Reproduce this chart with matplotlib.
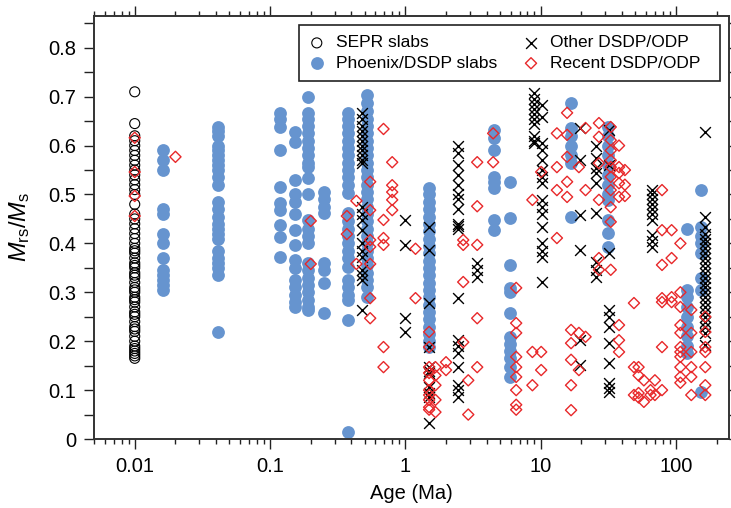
import numpy as np
import matplotlib.pyplot as plt
from matplotlib.ticker import FixedLocator, FuncFormatter, LogLocator, MultipleLocator

plt.rcParams['font.family'] = ['Liberation Sans', 'DejaVu Sans']
plt.rcParams['mathtext.fontset'] = 'custom'
plt.rcParams['mathtext.rm'] = 'Liberation Sans'
plt.rcParams['mathtext.it'] = 'Liberation Sans:italic'

# --------------------------data--------------------------

# SEPR slabs, all at 0.01 Ma
sepr_age = 0.01
sepr_vals = [0.71, 0.645, 0.62, 0.61, 0.60, 0.59, 0.58, 0.57, 0.56, 0.55, 0.54, 0.53,
             0.52, 0.51, 0.50, 0.48, 0.46, 0.45, 0.44, 0.43, 0.42, 0.41, 0.40, 0.39,
             0.385, 0.38, 0.37, 0.36, 0.355, 0.35, 0.34, 0.335, 0.33, 0.32, 0.31,
             0.305, 0.30, 0.29, 0.285, 0.28, 0.27, 0.26, 0.255, 0.25, 0.24, 0.23,
             0.225, 0.22, 0.21, 0.20, 0.19, 0.185, 0.18, 0.175, 0.17, 0.165]

# Phoenix/DSDP slabs, one list of Mrs/Ms per age
phoenix_ages = [0.0161, 0.041, 0.119, 0.154, 0.192, 0.252, 0.38, 0.525, 1.5, 4.54,
                5.96, 16.8, 31.5, 121, 153]
phoenix_vals = [
	[0.59, 0.57, 0.55, 0.47, 0.46, 0.42, 0.40, 0.37, 0.345, 0.335, 0.325, 0.315, 0.305],
	[0.638, 0.63, 0.62, 0.60, 0.59, 0.58, 0.57, 0.56, 0.55, 0.535, 0.52, 0.485, 0.47,
	 0.455, 0.44, 0.43, 0.42, 0.41, 0.385, 0.37, 0.36, 0.35, 0.335, 0.218],
	[0.667, 0.655, 0.638, 0.59, 0.515, 0.483, 0.468, 0.438, 0.413, 0.372],
	[0.628, 0.607, 0.53, 0.50, 0.485, 0.46, 0.427, 0.397, 0.366, 0.35, 0.325, 0.31,
	 0.295, 0.28, 0.27],
	[0.70, 0.667, 0.655, 0.64, 0.625, 0.61, 0.595, 0.58, 0.565, 0.556, 0.534, 0.50,
	 0.448, 0.43, 0.415, 0.40, 0.36, 0.345, 0.33, 0.315, 0.30, 0.285, 0.27, 0.264],
	[0.505, 0.49, 0.475, 0.462, 0.36, 0.345, 0.32, 0.257],
	[0.667, 0.655, 0.64, 0.625, 0.61, 0.595, 0.58, 0.565, 0.55, 0.535, 0.52, 0.503,
	 0.462, 0.445, 0.43, 0.415, 0.40, 0.385, 0.37, 0.352, 0.325, 0.31, 0.295, 0.284,
	 0.243, 0.014],
	[0.703, 0.687, 0.67, 0.655, 0.64, 0.625, 0.61, 0.595, 0.58, 0.565, 0.55, 0.535,
	 0.52, 0.505, 0.49, 0.475, 0.46, 0.445, 0.43, 0.415, 0.40, 0.385, 0.37, 0.355,
	 0.34, 0.325, 0.31, 0.29],
	[0.513, 0.50, 0.485, 0.47, 0.455, 0.44, 0.425, 0.41, 0.395, 0.38, 0.365, 0.35,
	 0.335, 0.32, 0.305, 0.29, 0.275, 0.26, 0.245, 0.23, 0.215, 0.20, 0.188],
	[0.632, 0.615, 0.59, 0.536, 0.525, 0.513, 0.448, 0.427],
	[0.526, 0.452, 0.356, 0.309, 0.30, 0.257, 0.209, 0.195, 0.18, 0.165, 0.147, 0.127],
	[0.687, 0.636, 0.62, 0.60, 0.58, 0.564, 0.454],
	[0.638, 0.62, 0.60, 0.58, 0.56, 0.54, 0.52, 0.50, 0.489, 0.448, 0.421, 0.393],
	[0.43, 0.305, 0.29, 0.27, 0.25, 0.23, 0.21, 0.19, 0.176],
	[0.51, 0.433, 0.415, 0.40, 0.38, 0.33, 0.305, 0.097],
]

# Other DSDP/ODP
other_ages = [0.48, 1.0, 1.5, 2.46, 3.4, 8.95, 10.3, 19.6, 25.7, 32, 66.5, 164]
other_vals = [
	[0.667, 0.655, 0.64, 0.63, 0.62, 0.61, 0.60, 0.59, 0.58, 0.57, 0.564, 0.474, 0.46,
	 0.448, 0.427, 0.40, 0.385, 0.372, 0.346, 0.335, 0.325, 0.264],
	[0.448, 0.397, 0.247, 0.219],
	[0.434, 0.387, 0.278, 0.188, 0.147, 0.14, 0.135, 0.106, 0.095, 0.086, 0.033],
	[0.60, 0.585, 0.56, 0.54, 0.52, 0.50, 0.49, 0.47, 0.44, 0.435, 0.43, 0.288, 0.202,
	 0.19, 0.176, 0.147, 0.11, 0.10, 0.086],
	[0.36, 0.345, 0.331],
	[0.708, 0.695, 0.685, 0.675, 0.665, 0.655, 0.645, 0.62, 0.61, 0.605],
	[0.683, 0.658, 0.605, 0.59, 0.57, 0.55, 0.535, 0.523, 0.489, 0.475, 0.46, 0.434,
	 0.40, 0.385, 0.372, 0.321],
	[0.636, 0.57, 0.458, 0.387, 0.202, 0.151],
	[0.60, 0.575, 0.555, 0.544, 0.523, 0.462, 0.362, 0.345, 0.331],
	[0.632, 0.56, 0.38, 0.264, 0.25, 0.229, 0.196, 0.155, 0.115, 0.105, 0.096],
	[0.509, 0.50, 0.49, 0.48, 0.47, 0.46, 0.448, 0.417, 0.405, 0.393],
	[0.628, 0.454, 0.434, 0.42, 0.41, 0.40, 0.39, 0.38, 0.37, 0.36, 0.35, 0.34, 0.33,
	 0.32, 0.31, 0.30, 0.29, 0.28, 0.27, 0.26, 0.25, 0.24, 0.23, 0.217, 0.192],
]

# Recent DSDP/ODP
recent_ages = [0.01, 0.020, 0.2, 0.37, 0.435, 0.55, 0.69, 0.80, 1.19, 1.5, 1.67, 2.0,
               2.68, 2.92, 3.4, 4.46, 6.6, 8.7, 10.1, 13.2, 15.7, 16.8, 19.2, 21.5,
               27, 33, 38, 42, 49, 53, 58, 65, 70, 79, 93, 108, 130, 165]
recent_vals = [
	[0.616, 0.546, 0.497, 0.456],
	[0.577],
	[0.446, 0.358],
	[0.456, 0.419],
	[0.487, 0.358],
	[0.526, 0.468, 0.407, 0.393, 0.358, 0.288, 0.247],
	[0.634, 0.448, 0.411, 0.397, 0.188, 0.147],
	[0.566, 0.519, 0.505, 0.489, 0.468],
	[0.389, 0.288],
	[0.219, 0.188, 0.147, 0.135, 0.12, 0.10, 0.09, 0.08, 0.065, 0.06],
	[0.147, 0.13, 0.11, 0.08, 0.055],
	[0.157, 0.141],
	[0.407, 0.397, 0.321, 0.198],
	[0.12, 0.05],
	[0.566, 0.476, 0.397, 0.247, 0.147],
	[0.625, 0.566],
	[0.309, 0.237, 0.217, 0.168, 0.147, 0.127, 0.10, 0.07, 0.06],
	[0.489, 0.178, 0.11],
	[0.546, 0.178, 0.141],
	[0.625, 0.556, 0.509, 0.411],
	[0.667, 0.622, 0.577, 0.526, 0.495],
	[0.223, 0.196, 0.162, 0.11, 0.059],
	[0.556, 0.217, 0.141],
	[0.636, 0.509, 0.209],
	[0.646, 0.618, 0.564, 0.489, 0.37, 0.346],
	[0.638, 0.611, 0.59, 0.57, 0.556, 0.536, 0.509, 0.474, 0.444, 0.346],
	[0.60, 0.556, 0.544, 0.523, 0.495, 0.233, 0.202, 0.178],
	[0.55, 0.52, 0.497],
	[0.278, 0.147, 0.09],
	[0.147, 0.13, 0.094, 0.085],
	[0.12, 0.076],
	[0.10, 0.09],
	[0.12, 0.09],
	[0.509, 0.427, 0.356, 0.288, 0.28, 0.188, 0.10],
	[0.427, 0.37, 0.29, 0.28],
	[0.40, 0.30, 0.27, 0.233, 0.217, 0.188, 0.178, 0.168, 0.147, 0.127, 0.115],
	[0.264, 0.217, 0.178, 0.147, 0.127, 0.09],
	[0.25, 0.219, 0.188, 0.178, 0.147, 0.11, 0.09],
]

# ---------------------------------------------------------------------------


def flatten(ages, vals):
	xs = []
	ys = []
	for a, v in zip(ages, vals):
		xs += [a] * len(v)
		ys += list(v)
	return xs, ys


fig = plt.figure(figsize=(7.31, 5.08), dpi=100)
ax = fig.add_axes([0.1286, 0.1358, 0.868, 0.8327])

px, py = flatten(phoenix_ages, phoenix_vals)
ox, oy = flatten(other_ages, other_vals)
rx, ry = flatten(recent_ages, recent_vals)

h1 = ax.scatter([sepr_age] * len(sepr_vals), sepr_vals, s=52, facecolors="none",
                edgecolors="black", linewidths=0.8, label="SEPR slabs", zorder=2)
h2 = ax.scatter(px, py, s=85, color="#6694cf", linewidths=0, label="Phoenix/DSDP slabs", zorder=1)
h3 = ax.scatter(ox, oy, s=60, marker="x", color="black", linewidths=1.0,
                label="Other DSDP/ODP  ", zorder=3)
h4 = ax.scatter(rx, ry, s=32, marker="D", facecolors="none", edgecolors="#e8282a",
                linewidths=1.0, label="Recent DSDP/ODP  ", zorder=4)

ax.set_xscale("log")
ax.set_xlim(0.005, 245)
ax.set_ylim(0, 0.865)

ax.xaxis.set_major_locator(FixedLocator([0.01, 0.1, 1, 10, 100]))
ax.xaxis.set_major_formatter(FuncFormatter(lambda v, p: "%g" % v))
ax.xaxis.set_minor_locator(LogLocator(base=10, subs=np.arange(2, 10)))
ax.xaxis.set_minor_formatter(FuncFormatter(lambda v, p: ""))
ax.yaxis.set_major_locator(MultipleLocator(0.1))
ax.yaxis.set_minor_locator(MultipleLocator(0.05))
ax.yaxis.set_major_formatter(FuncFormatter(lambda v, p: "0" if abs(v) < 1e-9 else "%.1f" % v))

ax.tick_params(which="both", direction="out", top=True, right=True, labelsize=14.5,
               width=1.0, color="#222222", pad=6)
ax.tick_params(which="major", length=7)
ax.tick_params(axis="x", which="minor", length=3.5)
ax.tick_params(axis="y", which="minor", length=7)
for s in ax.spines.values():
	s.set_linewidth(1.4)
	s.set_color("#333333")

ax.set_xlabel("Age (Ma)", fontsize=14.5, labelpad=6)
ax.set_ylabel(r"$M_{\rm rs}/M_{\rm s}$", fontsize=17)
ax.yaxis.set_label_coords(-0.097, 0.5)

leg = ax.legend(handles=[h1, h2, h3, h4], ncol=2, loc="upper right",
                bbox_to_anchor=(0.987, 0.979), borderaxespad=0, fontsize=12.5,
                frameon=True, fancybox=False, edgecolor="#222222", framealpha=1,
                handletextpad=0.7, columnspacing=1.55, borderpad=0.6, labelspacing=0.3,
                handlelength=0.8)
leg.get_frame().set_linewidth(1.2)

plt.savefig("out.png", dpi=100)
